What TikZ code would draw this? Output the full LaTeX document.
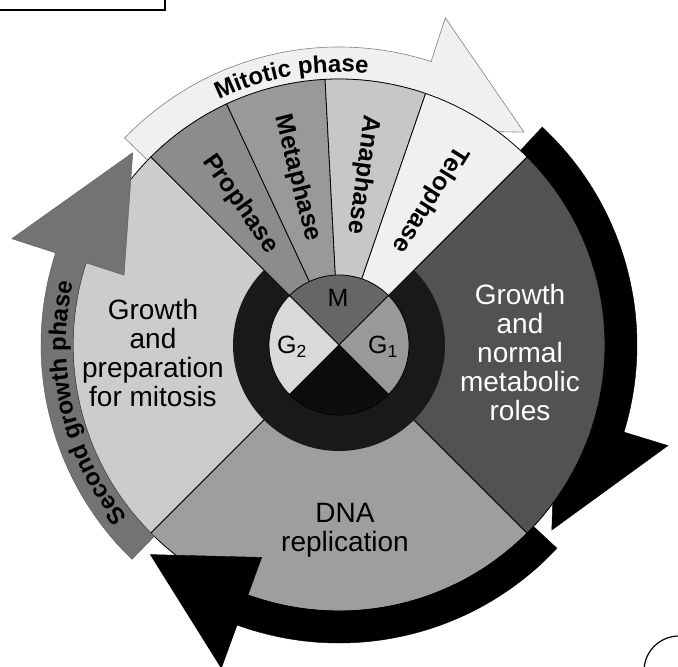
\documentclass[tikz,border=0pt]{standalone}
\usepackage{fontspec}
\setmainfont{Liberation Sans}
\setsansfont{Liberation Sans}
\usetikzlibrary{decorations.text}

\newcommand{\bandfont}{\bfseries\fontsize{24}{24}\selectfont}
% curved band with head: #1 style, #2 tail angle, #3 head base angle, #4 tip angle
\newcommand{\bandarrow}[4]{%
  \filldraw[#1] (#2:266) arc[start angle=#2, end angle=#3, radius=266]
    -- (#3:226) -- (#4:282) -- (#3:344) -- (#3:298)
    arc[start angle=#3, end angle=#2, radius=298] -- cycle;
}

\tikzset{
    font=\sffamily,
    % Bands
    bandLight/.style={fill=black!6, draw=black!50, line width=0.6pt},
    bandBlack/.style={fill=black, draw=black},
    bandGray/.style={fill=black!55, draw=black!65},
    % Wheel
    sector/.style={draw=black, line width=0.8pt},
    % Labels
    sectorLbl/.style={align=center, inner sep=0pt, font=\fontsize{28}{29}\selectfont},
    phaseLbl/.style={inner sep=0pt, font=\bfseries\fontsize{25}{25}\selectfont},
    stageLbl/.style={inner sep=0pt, font=\fontsize{25}{25}\selectfont}
}

\begin{document}
\begin{tikzpicture}[x=1pt, y=1pt]
\useasboundingbox (-339,-322) rectangle (339,345);

% bands lying under the wheel
\bandarrow{bandLight}{136}{72}{49}
\bandarrow{bandBlack}{47}{-17}{-41}

% interphase sectors
\filldraw[sector, fill=black!20] (0,0) -- (135:266) arc[start angle=135, end angle=225, radius=266] -- cycle;
\filldraw[sector, fill=black!38] (0,0) -- (225:266) arc[start angle=225, end angle=315, radius=266] -- cycle;
\filldraw[sector, fill=black!68] (0,0) -- (-45:266) arc[start angle=-45, end angle=45, radius=266] -- cycle;

% mitotic wedges
\foreach \a/\b/\tone in {135/115/45, 115/93/40, 93/71/22, 71/45/6}
  \filldraw[sector, fill=black!\tone] (0,0) -- (\a:266) arc[start angle=\a, end angle=\b, radius=266] -- cycle;

% interphase ring and inner disc
\fill[black!90] (45:106) arc[start angle=45, end angle=-225, radius=106]
  -- (135:70) arc[start angle=-225, end angle=45, radius=70] -- cycle;
\foreach \a/\tone in {45/60, -45/40, -135/95, 135/15}
  \filldraw[sector, fill=black!\tone] (0,0) -- (\a:70) arc[start angle=\a, end angle=\a+90, radius=70] -- cycle;

% bands lying over the wheel
\bandarrow{bandBlack}{-43}{-110}{-132}
\bandarrow{bandGray}{226}{162}{137}

% band texts
\path[decorate, decoration={text along path, text align=center,
    text={|\bandfont|Mitotic phase}}]
  (128:273) arc[start angle=128, end angle=72, radius=273];
\path[decorate, decoration={text along path, text align=center,
    text={|\bandfont|Second growth phase}}]
  (235:273) arc[start angle=235, end angle=151, radius=273];

% phase labels
\foreach \ang/\name/\txt in {125/pro/Prophase, 104/meta/Metaphase, 82/ana/Anaphase, 58/telo/Telophase}
  \node[phaseLbl, rotate=\ang-180] (\name) at (\ang:172) {\txt};

\node[sectorLbl] (gtwo) at (-186,-8) {Growth\\and\\preparation\\for mitosis};
\node[sectorLbl] (synth) at (6,-185) {DNA\\replication};
\node[sectorLbl, text=white] (gone) at (181,-7) {Growth\\and\\normal\\metabolic\\roles};

\node[stageLbl] (m) at (-1,47) {M};
\node[stageLbl] (g2) at (-47,-2) {G\textsubscript{2}};
\node[stageLbl] (g1) at (44,-2) {G\textsubscript{1}};

% scan fragments at the corners
\draw[line width=1.5pt] (-339,335) -- (-174,335) -- (-174,345);
\draw[line width=1.2pt] (305,-326) arc[start angle=180, end angle=90, radius=35];

\end{tikzpicture}
\end{document}
